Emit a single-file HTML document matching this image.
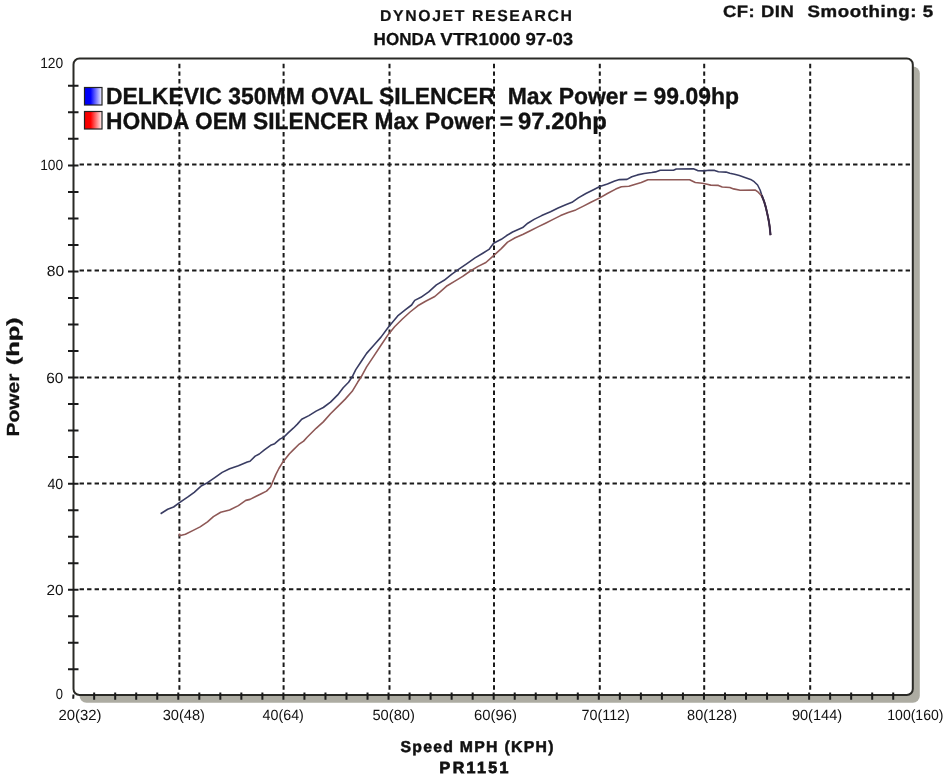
<!DOCTYPE html><html><head><meta charset="utf-8"><style>html,body{margin:0;padding:0;background:#fff;width:950px;height:776px;overflow:hidden}svg{display:block;filter:blur(0.4px)}text{font-family:"Liberation Sans",sans-serif;fill:#111;text-rendering:geometricPrecision}</style></head><body>
<svg width="950" height="776" viewBox="0 0 950 776">
<defs><linearGradient id="gb" x1="0" x2="1" y1="0" y2="0"><stop offset="0" stop-color="#0000f0"/><stop offset="0.35" stop-color="#0000ff"/><stop offset="1" stop-color="#f4f4ff"/></linearGradient>
<linearGradient id="gr" x1="0" x2="1" y1="0" y2="0"><stop offset="0" stop-color="#f00000"/><stop offset="0.35" stop-color="#ff0000"/><stop offset="1" stop-color="#fff4f4"/></linearGradient></defs>
<rect width="950" height="776" fill="#fff"/>
<rect x="79.5" y="66.5" width="840.3" height="636.2" rx="7" fill="#adaca2"/>
<rect x="73.5" y="58.5" width="839.3" height="636.5" rx="6" fill="#fff"/>
<path d="M179.40 63.87v4.4M179.40 71.44v4.4M179.40 79.01v4.4M179.40 86.59v4.4M179.40 94.16v4.4M179.40 101.73v4.4M179.40 109.30v4.4M179.40 116.87v4.4M179.40 124.44v4.4M179.40 132.01v4.4M179.40 139.59v4.4M179.40 147.16v4.4M179.40 154.73v4.4M179.40 162.30v4.4M179.40 169.86v4.4M179.40 177.43v4.4M179.40 184.99v4.4M179.40 192.56v4.4M179.40 200.12v4.4M179.40 207.69v4.4M179.40 215.25v4.4M179.40 222.81v4.4M179.40 230.38v4.4M179.40 237.94v4.4M179.40 245.51v4.4M179.40 253.07v4.4M179.40 260.64v4.4M179.40 268.20v4.4M179.40 275.86v4.4M179.40 283.51v4.4M179.40 291.17v4.4M179.40 298.83v4.4M179.40 306.49v4.4M179.40 314.14v4.4M179.40 321.80v4.4M179.40 329.46v4.4M179.40 337.11v4.4M179.40 344.77v4.4M179.40 352.43v4.4M179.40 360.09v4.4M179.40 367.74v4.4M179.40 375.40v4.4M179.40 382.96v4.4M179.40 390.51v4.4M179.40 398.07v4.4M179.40 405.63v4.4M179.40 413.19v4.4M179.40 420.74v4.4M179.40 428.30v4.4M179.40 435.86v4.4M179.40 443.41v4.4M179.40 450.97v4.4M179.40 458.53v4.4M179.40 466.09v4.4M179.40 473.64v4.4M179.40 481.20v4.4M179.40 488.76v4.4M179.40 496.33v4.4M179.40 503.89v4.4M179.40 511.46v4.4M179.40 519.02v4.4M179.40 526.59v4.4M179.40 534.15v4.4M179.40 541.71v4.4M179.40 549.28v4.4M179.40 556.84v4.4M179.40 564.41v4.4M179.40 571.97v4.4M179.40 579.54v4.4M179.40 587.10v4.4M179.40 594.65v4.4M179.40 602.20v4.4M179.40 609.75v4.4M179.40 617.30v4.4M179.40 624.85v4.4M179.40 632.40v4.4M179.40 639.95v4.4M179.40 647.50v4.4M179.40 655.05v4.4M179.40 662.60v4.4M179.40 670.15v4.4M179.40 677.70v4.4M179.40 685.25v4.4M283.60 63.87v4.4M283.60 71.44v4.4M283.60 79.01v4.4M283.60 86.59v4.4M283.60 94.16v4.4M283.60 101.73v4.4M283.60 109.30v4.4M283.60 116.87v4.4M283.60 124.44v4.4M283.60 132.01v4.4M283.60 139.59v4.4M283.60 147.16v4.4M283.60 154.73v4.4M283.60 162.30v4.4M283.60 169.86v4.4M283.60 177.43v4.4M283.60 184.99v4.4M283.60 192.56v4.4M283.60 200.12v4.4M283.60 207.69v4.4M283.60 215.25v4.4M283.60 222.81v4.4M283.60 230.38v4.4M283.60 237.94v4.4M283.60 245.51v4.4M283.60 253.07v4.4M283.60 260.64v4.4M283.60 268.20v4.4M283.60 275.86v4.4M283.60 283.51v4.4M283.60 291.17v4.4M283.60 298.83v4.4M283.60 306.49v4.4M283.60 314.14v4.4M283.60 321.80v4.4M283.60 329.46v4.4M283.60 337.11v4.4M283.60 344.77v4.4M283.60 352.43v4.4M283.60 360.09v4.4M283.60 367.74v4.4M283.60 375.40v4.4M283.60 382.96v4.4M283.60 390.51v4.4M283.60 398.07v4.4M283.60 405.63v4.4M283.60 413.19v4.4M283.60 420.74v4.4M283.60 428.30v4.4M283.60 435.86v4.4M283.60 443.41v4.4M283.60 450.97v4.4M283.60 458.53v4.4M283.60 466.09v4.4M283.60 473.64v4.4M283.60 481.20v4.4M283.60 488.76v4.4M283.60 496.33v4.4M283.60 503.89v4.4M283.60 511.46v4.4M283.60 519.02v4.4M283.60 526.59v4.4M283.60 534.15v4.4M283.60 541.71v4.4M283.60 549.28v4.4M283.60 556.84v4.4M283.60 564.41v4.4M283.60 571.97v4.4M283.60 579.54v4.4M283.60 587.10v4.4M283.60 594.65v4.4M283.60 602.20v4.4M283.60 609.75v4.4M283.60 617.30v4.4M283.60 624.85v4.4M283.60 632.40v4.4M283.60 639.95v4.4M283.60 647.50v4.4M283.60 655.05v4.4M283.60 662.60v4.4M283.60 670.15v4.4M283.60 677.70v4.4M283.60 685.25v4.4M389.50 63.87v4.4M389.50 71.44v4.4M389.50 79.01v4.4M389.50 86.59v4.4M389.50 94.16v4.4M389.50 101.73v4.4M389.50 109.30v4.4M389.50 116.87v4.4M389.50 124.44v4.4M389.50 132.01v4.4M389.50 139.59v4.4M389.50 147.16v4.4M389.50 154.73v4.4M389.50 162.30v4.4M389.50 169.86v4.4M389.50 177.43v4.4M389.50 184.99v4.4M389.50 192.56v4.4M389.50 200.12v4.4M389.50 207.69v4.4M389.50 215.25v4.4M389.50 222.81v4.4M389.50 230.38v4.4M389.50 237.94v4.4M389.50 245.51v4.4M389.50 253.07v4.4M389.50 260.64v4.4M389.50 268.20v4.4M389.50 275.86v4.4M389.50 283.51v4.4M389.50 291.17v4.4M389.50 298.83v4.4M389.50 306.49v4.4M389.50 314.14v4.4M389.50 321.80v4.4M389.50 329.46v4.4M389.50 337.11v4.4M389.50 344.77v4.4M389.50 352.43v4.4M389.50 360.09v4.4M389.50 367.74v4.4M389.50 375.40v4.4M389.50 382.96v4.4M389.50 390.51v4.4M389.50 398.07v4.4M389.50 405.63v4.4M389.50 413.19v4.4M389.50 420.74v4.4M389.50 428.30v4.4M389.50 435.86v4.4M389.50 443.41v4.4M389.50 450.97v4.4M389.50 458.53v4.4M389.50 466.09v4.4M389.50 473.64v4.4M389.50 481.20v4.4M389.50 488.76v4.4M389.50 496.33v4.4M389.50 503.89v4.4M389.50 511.46v4.4M389.50 519.02v4.4M389.50 526.59v4.4M389.50 534.15v4.4M389.50 541.71v4.4M389.50 549.28v4.4M389.50 556.84v4.4M389.50 564.41v4.4M389.50 571.97v4.4M389.50 579.54v4.4M389.50 587.10v4.4M389.50 594.65v4.4M389.50 602.20v4.4M389.50 609.75v4.4M389.50 617.30v4.4M389.50 624.85v4.4M389.50 632.40v4.4M389.50 639.95v4.4M389.50 647.50v4.4M389.50 655.05v4.4M389.50 662.60v4.4M389.50 670.15v4.4M389.50 677.70v4.4M389.50 685.25v4.4M494.00 63.87v4.4M494.00 71.44v4.4M494.00 79.01v4.4M494.00 86.59v4.4M494.00 94.16v4.4M494.00 101.73v4.4M494.00 109.30v4.4M494.00 116.87v4.4M494.00 124.44v4.4M494.00 132.01v4.4M494.00 139.59v4.4M494.00 147.16v4.4M494.00 154.73v4.4M494.00 162.30v4.4M494.00 169.86v4.4M494.00 177.43v4.4M494.00 184.99v4.4M494.00 192.56v4.4M494.00 200.12v4.4M494.00 207.69v4.4M494.00 215.25v4.4M494.00 222.81v4.4M494.00 230.38v4.4M494.00 237.94v4.4M494.00 245.51v4.4M494.00 253.07v4.4M494.00 260.64v4.4M494.00 268.20v4.4M494.00 275.86v4.4M494.00 283.51v4.4M494.00 291.17v4.4M494.00 298.83v4.4M494.00 306.49v4.4M494.00 314.14v4.4M494.00 321.80v4.4M494.00 329.46v4.4M494.00 337.11v4.4M494.00 344.77v4.4M494.00 352.43v4.4M494.00 360.09v4.4M494.00 367.74v4.4M494.00 375.40v4.4M494.00 382.96v4.4M494.00 390.51v4.4M494.00 398.07v4.4M494.00 405.63v4.4M494.00 413.19v4.4M494.00 420.74v4.4M494.00 428.30v4.4M494.00 435.86v4.4M494.00 443.41v4.4M494.00 450.97v4.4M494.00 458.53v4.4M494.00 466.09v4.4M494.00 473.64v4.4M494.00 481.20v4.4M494.00 488.76v4.4M494.00 496.33v4.4M494.00 503.89v4.4M494.00 511.46v4.4M494.00 519.02v4.4M494.00 526.59v4.4M494.00 534.15v4.4M494.00 541.71v4.4M494.00 549.28v4.4M494.00 556.84v4.4M494.00 564.41v4.4M494.00 571.97v4.4M494.00 579.54v4.4M494.00 587.10v4.4M494.00 594.65v4.4M494.00 602.20v4.4M494.00 609.75v4.4M494.00 617.30v4.4M494.00 624.85v4.4M494.00 632.40v4.4M494.00 639.95v4.4M494.00 647.50v4.4M494.00 655.05v4.4M494.00 662.60v4.4M494.00 670.15v4.4M494.00 677.70v4.4M494.00 685.25v4.4M599.80 63.87v4.4M599.80 71.44v4.4M599.80 79.01v4.4M599.80 86.59v4.4M599.80 94.16v4.4M599.80 101.73v4.4M599.80 109.30v4.4M599.80 116.87v4.4M599.80 124.44v4.4M599.80 132.01v4.4M599.80 139.59v4.4M599.80 147.16v4.4M599.80 154.73v4.4M599.80 162.30v4.4M599.80 169.86v4.4M599.80 177.43v4.4M599.80 184.99v4.4M599.80 192.56v4.4M599.80 200.12v4.4M599.80 207.69v4.4M599.80 215.25v4.4M599.80 222.81v4.4M599.80 230.38v4.4M599.80 237.94v4.4M599.80 245.51v4.4M599.80 253.07v4.4M599.80 260.64v4.4M599.80 268.20v4.4M599.80 275.86v4.4M599.80 283.51v4.4M599.80 291.17v4.4M599.80 298.83v4.4M599.80 306.49v4.4M599.80 314.14v4.4M599.80 321.80v4.4M599.80 329.46v4.4M599.80 337.11v4.4M599.80 344.77v4.4M599.80 352.43v4.4M599.80 360.09v4.4M599.80 367.74v4.4M599.80 375.40v4.4M599.80 382.96v4.4M599.80 390.51v4.4M599.80 398.07v4.4M599.80 405.63v4.4M599.80 413.19v4.4M599.80 420.74v4.4M599.80 428.30v4.4M599.80 435.86v4.4M599.80 443.41v4.4M599.80 450.97v4.4M599.80 458.53v4.4M599.80 466.09v4.4M599.80 473.64v4.4M599.80 481.20v4.4M599.80 488.76v4.4M599.80 496.33v4.4M599.80 503.89v4.4M599.80 511.46v4.4M599.80 519.02v4.4M599.80 526.59v4.4M599.80 534.15v4.4M599.80 541.71v4.4M599.80 549.28v4.4M599.80 556.84v4.4M599.80 564.41v4.4M599.80 571.97v4.4M599.80 579.54v4.4M599.80 587.10v4.4M599.80 594.65v4.4M599.80 602.20v4.4M599.80 609.75v4.4M599.80 617.30v4.4M599.80 624.85v4.4M599.80 632.40v4.4M599.80 639.95v4.4M599.80 647.50v4.4M599.80 655.05v4.4M599.80 662.60v4.4M599.80 670.15v4.4M599.80 677.70v4.4M599.80 685.25v4.4M704.20 63.87v4.4M704.20 71.44v4.4M704.20 79.01v4.4M704.20 86.59v4.4M704.20 94.16v4.4M704.20 101.73v4.4M704.20 109.30v4.4M704.20 116.87v4.4M704.20 124.44v4.4M704.20 132.01v4.4M704.20 139.59v4.4M704.20 147.16v4.4M704.20 154.73v4.4M704.20 162.30v4.4M704.20 169.86v4.4M704.20 177.43v4.4M704.20 184.99v4.4M704.20 192.56v4.4M704.20 200.12v4.4M704.20 207.69v4.4M704.20 215.25v4.4M704.20 222.81v4.4M704.20 230.38v4.4M704.20 237.94v4.4M704.20 245.51v4.4M704.20 253.07v4.4M704.20 260.64v4.4M704.20 268.20v4.4M704.20 275.86v4.4M704.20 283.51v4.4M704.20 291.17v4.4M704.20 298.83v4.4M704.20 306.49v4.4M704.20 314.14v4.4M704.20 321.80v4.4M704.20 329.46v4.4M704.20 337.11v4.4M704.20 344.77v4.4M704.20 352.43v4.4M704.20 360.09v4.4M704.20 367.74v4.4M704.20 375.40v4.4M704.20 382.96v4.4M704.20 390.51v4.4M704.20 398.07v4.4M704.20 405.63v4.4M704.20 413.19v4.4M704.20 420.74v4.4M704.20 428.30v4.4M704.20 435.86v4.4M704.20 443.41v4.4M704.20 450.97v4.4M704.20 458.53v4.4M704.20 466.09v4.4M704.20 473.64v4.4M704.20 481.20v4.4M704.20 488.76v4.4M704.20 496.33v4.4M704.20 503.89v4.4M704.20 511.46v4.4M704.20 519.02v4.4M704.20 526.59v4.4M704.20 534.15v4.4M704.20 541.71v4.4M704.20 549.28v4.4M704.20 556.84v4.4M704.20 564.41v4.4M704.20 571.97v4.4M704.20 579.54v4.4M704.20 587.10v4.4M704.20 594.65v4.4M704.20 602.20v4.4M704.20 609.75v4.4M704.20 617.30v4.4M704.20 624.85v4.4M704.20 632.40v4.4M704.20 639.95v4.4M704.20 647.50v4.4M704.20 655.05v4.4M704.20 662.60v4.4M704.20 670.15v4.4M704.20 677.70v4.4M704.20 685.25v4.4M810.20 63.87v4.4M810.20 71.44v4.4M810.20 79.01v4.4M810.20 86.59v4.4M810.20 94.16v4.4M810.20 101.73v4.4M810.20 109.30v4.4M810.20 116.87v4.4M810.20 124.44v4.4M810.20 132.01v4.4M810.20 139.59v4.4M810.20 147.16v4.4M810.20 154.73v4.4M810.20 162.30v4.4M810.20 169.86v4.4M810.20 177.43v4.4M810.20 184.99v4.4M810.20 192.56v4.4M810.20 200.12v4.4M810.20 207.69v4.4M810.20 215.25v4.4M810.20 222.81v4.4M810.20 230.38v4.4M810.20 237.94v4.4M810.20 245.51v4.4M810.20 253.07v4.4M810.20 260.64v4.4M810.20 268.20v4.4M810.20 275.86v4.4M810.20 283.51v4.4M810.20 291.17v4.4M810.20 298.83v4.4M810.20 306.49v4.4M810.20 314.14v4.4M810.20 321.80v4.4M810.20 329.46v4.4M810.20 337.11v4.4M810.20 344.77v4.4M810.20 352.43v4.4M810.20 360.09v4.4M810.20 367.74v4.4M810.20 375.40v4.4M810.20 382.96v4.4M810.20 390.51v4.4M810.20 398.07v4.4M810.20 405.63v4.4M810.20 413.19v4.4M810.20 420.74v4.4M810.20 428.30v4.4M810.20 435.86v4.4M810.20 443.41v4.4M810.20 450.97v4.4M810.20 458.53v4.4M810.20 466.09v4.4M810.20 473.64v4.4M810.20 481.20v4.4M810.20 488.76v4.4M810.20 496.33v4.4M810.20 503.89v4.4M810.20 511.46v4.4M810.20 519.02v4.4M810.20 526.59v4.4M810.20 534.15v4.4M810.20 541.71v4.4M810.20 549.28v4.4M810.20 556.84v4.4M810.20 564.41v4.4M810.20 571.97v4.4M810.20 579.54v4.4M810.20 587.10v4.4M810.20 594.65v4.4M810.20 602.20v4.4M810.20 609.75v4.4M810.20 617.30v4.4M810.20 624.85v4.4M810.20 632.40v4.4M810.20 639.95v4.4M810.20 647.50v4.4M810.20 655.05v4.4M810.20 662.60v4.4M810.20 670.15v4.4M810.20 677.70v4.4M810.20 685.25v4.4M169.69 164.50h4.4M162.18 164.50h4.4M154.67 164.50h4.4M147.16 164.50h4.4M139.65 164.50h4.4M132.14 164.50h4.4M124.63 164.50h4.4M117.12 164.50h4.4M109.61 164.50h4.4M102.10 164.50h4.4M94.59 164.50h4.4M87.08 164.50h4.4M79.57 164.50h4.4M177.20 164.50h4.4M184.64 164.50h4.4M192.09 164.50h4.4M199.53 164.50h4.4M206.97 164.50h4.4M214.41 164.50h4.4M221.86 164.50h4.4M229.30 164.50h4.4M236.74 164.50h4.4M244.19 164.50h4.4M251.63 164.50h4.4M259.07 164.50h4.4M266.51 164.50h4.4M273.96 164.50h4.4M281.40 164.50h4.4M288.96 164.50h4.4M296.53 164.50h4.4M304.09 164.50h4.4M311.66 164.50h4.4M319.22 164.50h4.4M326.79 164.50h4.4M334.35 164.50h4.4M341.91 164.50h4.4M349.48 164.50h4.4M357.04 164.50h4.4M364.61 164.50h4.4M372.17 164.50h4.4M379.74 164.50h4.4M387.30 164.50h4.4M394.76 164.50h4.4M402.23 164.50h4.4M409.69 164.50h4.4M417.16 164.50h4.4M424.62 164.50h4.4M432.09 164.50h4.4M439.55 164.50h4.4M447.01 164.50h4.4M454.48 164.50h4.4M461.94 164.50h4.4M469.41 164.50h4.4M476.87 164.50h4.4M484.34 164.50h4.4M491.80 164.50h4.4M499.36 164.50h4.4M506.91 164.50h4.4M514.47 164.50h4.4M522.03 164.50h4.4M529.59 164.50h4.4M537.14 164.50h4.4M544.70 164.50h4.4M552.26 164.50h4.4M559.81 164.50h4.4M567.37 164.50h4.4M574.93 164.50h4.4M582.49 164.50h4.4M590.04 164.50h4.4M597.60 164.50h4.4M605.06 164.50h4.4M612.51 164.50h4.4M619.97 164.50h4.4M627.43 164.50h4.4M634.89 164.50h4.4M642.34 164.50h4.4M649.80 164.50h4.4M657.26 164.50h4.4M664.71 164.50h4.4M672.17 164.50h4.4M679.63 164.50h4.4M687.09 164.50h4.4M694.54 164.50h4.4M702.00 164.50h4.4M709.57 164.50h4.4M717.14 164.50h4.4M724.71 164.50h4.4M732.29 164.50h4.4M739.86 164.50h4.4M747.43 164.50h4.4M755.00 164.50h4.4M762.57 164.50h4.4M770.14 164.50h4.4M777.71 164.50h4.4M785.29 164.50h4.4M792.86 164.50h4.4M800.43 164.50h4.4M808.00 164.50h4.4M815.51 164.50h4.4M823.02 164.50h4.4M830.53 164.50h4.4M838.04 164.50h4.4M845.55 164.50h4.4M853.06 164.50h4.4M860.57 164.50h4.4M868.08 164.50h4.4M875.59 164.50h4.4M883.10 164.50h4.4M890.61 164.50h4.4M898.12 164.50h4.4M905.63 164.50h4.4M169.69 270.40h4.4M162.18 270.40h4.4M154.67 270.40h4.4M147.16 270.40h4.4M139.65 270.40h4.4M132.14 270.40h4.4M124.63 270.40h4.4M117.12 270.40h4.4M109.61 270.40h4.4M102.10 270.40h4.4M94.59 270.40h4.4M87.08 270.40h4.4M79.57 270.40h4.4M177.20 270.40h4.4M184.64 270.40h4.4M192.09 270.40h4.4M199.53 270.40h4.4M206.97 270.40h4.4M214.41 270.40h4.4M221.86 270.40h4.4M229.30 270.40h4.4M236.74 270.40h4.4M244.19 270.40h4.4M251.63 270.40h4.4M259.07 270.40h4.4M266.51 270.40h4.4M273.96 270.40h4.4M281.40 270.40h4.4M288.96 270.40h4.4M296.53 270.40h4.4M304.09 270.40h4.4M311.66 270.40h4.4M319.22 270.40h4.4M326.79 270.40h4.4M334.35 270.40h4.4M341.91 270.40h4.4M349.48 270.40h4.4M357.04 270.40h4.4M364.61 270.40h4.4M372.17 270.40h4.4M379.74 270.40h4.4M387.30 270.40h4.4M394.76 270.40h4.4M402.23 270.40h4.4M409.69 270.40h4.4M417.16 270.40h4.4M424.62 270.40h4.4M432.09 270.40h4.4M439.55 270.40h4.4M447.01 270.40h4.4M454.48 270.40h4.4M461.94 270.40h4.4M469.41 270.40h4.4M476.87 270.40h4.4M484.34 270.40h4.4M491.80 270.40h4.4M499.36 270.40h4.4M506.91 270.40h4.4M514.47 270.40h4.4M522.03 270.40h4.4M529.59 270.40h4.4M537.14 270.40h4.4M544.70 270.40h4.4M552.26 270.40h4.4M559.81 270.40h4.4M567.37 270.40h4.4M574.93 270.40h4.4M582.49 270.40h4.4M590.04 270.40h4.4M597.60 270.40h4.4M605.06 270.40h4.4M612.51 270.40h4.4M619.97 270.40h4.4M627.43 270.40h4.4M634.89 270.40h4.4M642.34 270.40h4.4M649.80 270.40h4.4M657.26 270.40h4.4M664.71 270.40h4.4M672.17 270.40h4.4M679.63 270.40h4.4M687.09 270.40h4.4M694.54 270.40h4.4M702.00 270.40h4.4M709.57 270.40h4.4M717.14 270.40h4.4M724.71 270.40h4.4M732.29 270.40h4.4M739.86 270.40h4.4M747.43 270.40h4.4M755.00 270.40h4.4M762.57 270.40h4.4M770.14 270.40h4.4M777.71 270.40h4.4M785.29 270.40h4.4M792.86 270.40h4.4M800.43 270.40h4.4M808.00 270.40h4.4M815.51 270.40h4.4M823.02 270.40h4.4M830.53 270.40h4.4M838.04 270.40h4.4M845.55 270.40h4.4M853.06 270.40h4.4M860.57 270.40h4.4M868.08 270.40h4.4M875.59 270.40h4.4M883.10 270.40h4.4M890.61 270.40h4.4M898.12 270.40h4.4M905.63 270.40h4.4M169.69 377.60h4.4M162.18 377.60h4.4M154.67 377.60h4.4M147.16 377.60h4.4M139.65 377.60h4.4M132.14 377.60h4.4M124.63 377.60h4.4M117.12 377.60h4.4M109.61 377.60h4.4M102.10 377.60h4.4M94.59 377.60h4.4M87.08 377.60h4.4M79.57 377.60h4.4M177.20 377.60h4.4M184.64 377.60h4.4M192.09 377.60h4.4M199.53 377.60h4.4M206.97 377.60h4.4M214.41 377.60h4.4M221.86 377.60h4.4M229.30 377.60h4.4M236.74 377.60h4.4M244.19 377.60h4.4M251.63 377.60h4.4M259.07 377.60h4.4M266.51 377.60h4.4M273.96 377.60h4.4M281.40 377.60h4.4M288.96 377.60h4.4M296.53 377.60h4.4M304.09 377.60h4.4M311.66 377.60h4.4M319.22 377.60h4.4M326.79 377.60h4.4M334.35 377.60h4.4M341.91 377.60h4.4M349.48 377.60h4.4M357.04 377.60h4.4M364.61 377.60h4.4M372.17 377.60h4.4M379.74 377.60h4.4M387.30 377.60h4.4M394.76 377.60h4.4M402.23 377.60h4.4M409.69 377.60h4.4M417.16 377.60h4.4M424.62 377.60h4.4M432.09 377.60h4.4M439.55 377.60h4.4M447.01 377.60h4.4M454.48 377.60h4.4M461.94 377.60h4.4M469.41 377.60h4.4M476.87 377.60h4.4M484.34 377.60h4.4M491.80 377.60h4.4M499.36 377.60h4.4M506.91 377.60h4.4M514.47 377.60h4.4M522.03 377.60h4.4M529.59 377.60h4.4M537.14 377.60h4.4M544.70 377.60h4.4M552.26 377.60h4.4M559.81 377.60h4.4M567.37 377.60h4.4M574.93 377.60h4.4M582.49 377.60h4.4M590.04 377.60h4.4M597.60 377.60h4.4M605.06 377.60h4.4M612.51 377.60h4.4M619.97 377.60h4.4M627.43 377.60h4.4M634.89 377.60h4.4M642.34 377.60h4.4M649.80 377.60h4.4M657.26 377.60h4.4M664.71 377.60h4.4M672.17 377.60h4.4M679.63 377.60h4.4M687.09 377.60h4.4M694.54 377.60h4.4M702.00 377.60h4.4M709.57 377.60h4.4M717.14 377.60h4.4M724.71 377.60h4.4M732.29 377.60h4.4M739.86 377.60h4.4M747.43 377.60h4.4M755.00 377.60h4.4M762.57 377.60h4.4M770.14 377.60h4.4M777.71 377.60h4.4M785.29 377.60h4.4M792.86 377.60h4.4M800.43 377.60h4.4M808.00 377.60h4.4M815.51 377.60h4.4M823.02 377.60h4.4M830.53 377.60h4.4M838.04 377.60h4.4M845.55 377.60h4.4M853.06 377.60h4.4M860.57 377.60h4.4M868.08 377.60h4.4M875.59 377.60h4.4M883.10 377.60h4.4M890.61 377.60h4.4M898.12 377.60h4.4M905.63 377.60h4.4M169.69 483.40h4.4M162.18 483.40h4.4M154.67 483.40h4.4M147.16 483.40h4.4M139.65 483.40h4.4M132.14 483.40h4.4M124.63 483.40h4.4M117.12 483.40h4.4M109.61 483.40h4.4M102.10 483.40h4.4M94.59 483.40h4.4M87.08 483.40h4.4M79.57 483.40h4.4M177.20 483.40h4.4M184.64 483.40h4.4M192.09 483.40h4.4M199.53 483.40h4.4M206.97 483.40h4.4M214.41 483.40h4.4M221.86 483.40h4.4M229.30 483.40h4.4M236.74 483.40h4.4M244.19 483.40h4.4M251.63 483.40h4.4M259.07 483.40h4.4M266.51 483.40h4.4M273.96 483.40h4.4M281.40 483.40h4.4M288.96 483.40h4.4M296.53 483.40h4.4M304.09 483.40h4.4M311.66 483.40h4.4M319.22 483.40h4.4M326.79 483.40h4.4M334.35 483.40h4.4M341.91 483.40h4.4M349.48 483.40h4.4M357.04 483.40h4.4M364.61 483.40h4.4M372.17 483.40h4.4M379.74 483.40h4.4M387.30 483.40h4.4M394.76 483.40h4.4M402.23 483.40h4.4M409.69 483.40h4.4M417.16 483.40h4.4M424.62 483.40h4.4M432.09 483.40h4.4M439.55 483.40h4.4M447.01 483.40h4.4M454.48 483.40h4.4M461.94 483.40h4.4M469.41 483.40h4.4M476.87 483.40h4.4M484.34 483.40h4.4M491.80 483.40h4.4M499.36 483.40h4.4M506.91 483.40h4.4M514.47 483.40h4.4M522.03 483.40h4.4M529.59 483.40h4.4M537.14 483.40h4.4M544.70 483.40h4.4M552.26 483.40h4.4M559.81 483.40h4.4M567.37 483.40h4.4M574.93 483.40h4.4M582.49 483.40h4.4M590.04 483.40h4.4M597.60 483.40h4.4M605.06 483.40h4.4M612.51 483.40h4.4M619.97 483.40h4.4M627.43 483.40h4.4M634.89 483.40h4.4M642.34 483.40h4.4M649.80 483.40h4.4M657.26 483.40h4.4M664.71 483.40h4.4M672.17 483.40h4.4M679.63 483.40h4.4M687.09 483.40h4.4M694.54 483.40h4.4M702.00 483.40h4.4M709.57 483.40h4.4M717.14 483.40h4.4M724.71 483.40h4.4M732.29 483.40h4.4M739.86 483.40h4.4M747.43 483.40h4.4M755.00 483.40h4.4M762.57 483.40h4.4M770.14 483.40h4.4M777.71 483.40h4.4M785.29 483.40h4.4M792.86 483.40h4.4M800.43 483.40h4.4M808.00 483.40h4.4M815.51 483.40h4.4M823.02 483.40h4.4M830.53 483.40h4.4M838.04 483.40h4.4M845.55 483.40h4.4M853.06 483.40h4.4M860.57 483.40h4.4M868.08 483.40h4.4M875.59 483.40h4.4M883.10 483.40h4.4M890.61 483.40h4.4M898.12 483.40h4.4M905.63 483.40h4.4M169.69 589.30h4.4M162.18 589.30h4.4M154.67 589.30h4.4M147.16 589.30h4.4M139.65 589.30h4.4M132.14 589.30h4.4M124.63 589.30h4.4M117.12 589.30h4.4M109.61 589.30h4.4M102.10 589.30h4.4M94.59 589.30h4.4M87.08 589.30h4.4M79.57 589.30h4.4M177.20 589.30h4.4M184.64 589.30h4.4M192.09 589.30h4.4M199.53 589.30h4.4M206.97 589.30h4.4M214.41 589.30h4.4M221.86 589.30h4.4M229.30 589.30h4.4M236.74 589.30h4.4M244.19 589.30h4.4M251.63 589.30h4.4M259.07 589.30h4.4M266.51 589.30h4.4M273.96 589.30h4.4M281.40 589.30h4.4M288.96 589.30h4.4M296.53 589.30h4.4M304.09 589.30h4.4M311.66 589.30h4.4M319.22 589.30h4.4M326.79 589.30h4.4M334.35 589.30h4.4M341.91 589.30h4.4M349.48 589.30h4.4M357.04 589.30h4.4M364.61 589.30h4.4M372.17 589.30h4.4M379.74 589.30h4.4M387.30 589.30h4.4M394.76 589.30h4.4M402.23 589.30h4.4M409.69 589.30h4.4M417.16 589.30h4.4M424.62 589.30h4.4M432.09 589.30h4.4M439.55 589.30h4.4M447.01 589.30h4.4M454.48 589.30h4.4M461.94 589.30h4.4M469.41 589.30h4.4M476.87 589.30h4.4M484.34 589.30h4.4M491.80 589.30h4.4M499.36 589.30h4.4M506.91 589.30h4.4M514.47 589.30h4.4M522.03 589.30h4.4M529.59 589.30h4.4M537.14 589.30h4.4M544.70 589.30h4.4M552.26 589.30h4.4M559.81 589.30h4.4M567.37 589.30h4.4M574.93 589.30h4.4M582.49 589.30h4.4M590.04 589.30h4.4M597.60 589.30h4.4M605.06 589.30h4.4M612.51 589.30h4.4M619.97 589.30h4.4M627.43 589.30h4.4M634.89 589.30h4.4M642.34 589.30h4.4M649.80 589.30h4.4M657.26 589.30h4.4M664.71 589.30h4.4M672.17 589.30h4.4M679.63 589.30h4.4M687.09 589.30h4.4M694.54 589.30h4.4M702.00 589.30h4.4M709.57 589.30h4.4M717.14 589.30h4.4M724.71 589.30h4.4M732.29 589.30h4.4M739.86 589.30h4.4M747.43 589.30h4.4M755.00 589.30h4.4M762.57 589.30h4.4M770.14 589.30h4.4M777.71 589.30h4.4M785.29 589.30h4.4M792.86 589.30h4.4M800.43 589.30h4.4M808.00 589.30h4.4M815.51 589.30h4.4M823.02 589.30h4.4M830.53 589.30h4.4M838.04 589.30h4.4M845.55 589.30h4.4M853.06 589.30h4.4M860.57 589.30h4.4M868.08 589.30h4.4M875.59 589.30h4.4M883.10 589.30h4.4M890.61 589.30h4.4M898.12 589.30h4.4M905.63 589.30h4.4" stroke="#1a1a1a" stroke-width="2" fill="none"/>
<line x1="73.5" y1="694.5" x2="73.2" y2="698.8" stroke="#1a1a1a" stroke-width="2"/>
<rect x="73.5" y="58.5" width="839.3" height="636.5" rx="6" fill="none" stroke="#2a2a26" stroke-width="2"/>
<path d="M94.16 692.5v7.3M115.19 692.5v7.3M136.21 692.5v7.3M157.24 692.5v7.3M178.27 692.5v7.3M199.30 692.5v7.3M220.33 692.5v7.3M241.35 692.5v7.3M262.38 692.5v7.3M283.41 692.5v7.3M304.44 692.5v7.3M325.47 692.5v7.3M346.49 692.5v7.3M367.52 692.5v7.3M388.55 692.5v7.3M409.58 692.5v7.3M430.61 692.5v7.3M451.63 692.5v7.3M472.66 692.5v7.3M493.69 692.5v7.3M514.72 692.5v7.3M535.75 692.5v7.3M556.77 692.5v7.3M577.80 692.5v7.3M598.83 692.5v7.3M619.86 692.5v7.3M640.89 692.5v7.3M661.91 692.5v7.3M682.94 692.5v7.3M703.97 692.5v7.3M725.00 692.5v7.3M746.03 692.5v7.3M767.05 692.5v7.3M788.08 692.5v7.3M809.11 692.5v7.3M830.14 692.5v7.3M851.17 692.5v7.3M872.19 692.5v7.3M893.22 692.5v7.3M68.0 669.28h10.5M68.0 642.76h10.5M68.0 616.24h10.5M68.0 589.72h10.5M68.0 563.20h10.5M68.0 536.67h10.5M68.0 510.15h10.5M68.0 483.63h10.5M68.0 457.11h10.5M68.0 430.59h10.5M68.0 404.07h10.5M68.0 377.55h10.5M68.0 351.03h10.5M68.0 324.51h10.5M68.0 297.99h10.5M68.0 271.47h10.5M68.0 244.95h10.5M68.0 218.43h10.5M68.0 191.90h10.5M68.0 165.38h10.5M68.0 138.86h10.5M68.0 112.34h10.5M68.0 85.82h10.5" stroke="#1a1a1a" stroke-width="2" fill="none"/>
<polyline points="160.6,513.7 167.7,509.3 173.6,507.0 179.5,502.6 188.3,496.7 194.2,492.3 201.6,485.7 207.5,482.7 214.8,477.6 222.2,472.4 229.6,468.7 238.4,465.8 247.3,462.1 250.0,461.2 255.2,456.1 259.3,454.0 264.4,449.9 270.6,445.3 274.7,443.7 279.9,439.1 284.0,437.0 288.1,432.9 293.3,428.2 297.4,424.1 301.7,419.2 308.9,415.6 316.1,411.1 323.3,407.5 330.5,402.1 337.7,394.9 343.2,387.7 348.6,382.3 352.2,376.8 355.8,369.6 361.2,361.5 366.6,353.4 373.8,345.3 381.0,337.1 388.3,327.2 397.7,315.9 405.5,309.7 411.6,305.0 414.7,300.4 420.9,297.3 428.7,291.9 436.4,284.9 444.1,280.3 451.9,274.1 459.6,268.7 467.3,263.3 475.0,257.9 482.8,253.2 489.0,249.4 493.6,243.2 501.3,239.3 506.3,235.8 512.6,232.0 522.7,227.6 527.8,223.2 534.1,219.4 541.7,215.6 550.5,211.8 558.1,208.0 565.7,204.8 572.0,202.3 578.3,197.9 585.9,193.5 593.5,189.7 599.8,186.5 607.4,184.0 614.7,181.1 619.5,179.6 627.0,179.4 631.8,176.8 637.5,174.9 644.1,173.5 651.7,172.5 655.5,171.9 660.2,170.3 673.5,170.2 676.3,169.0 693.4,168.7 697.6,170.6 704.2,170.9 708.9,170.2 714.6,170.4 718.4,171.8 726.0,172.1 729.8,173.3 734.5,174.2 739.3,175.6 744.9,177.5 750.6,179.4 754.2,181.7 757.6,185.0 760.1,190.0 761.7,195.1 764.2,201.8 765.9,207.6 767.6,215.1 768.8,221.0 769.7,226.9 770.5,235.2" fill="none" stroke="#393c62" stroke-width="1.6" stroke-linejoin="round"/>
<polyline points="179.5,533.5 179.5,535.8 185.4,534.3 192.7,530.6 200.1,526.9 207.5,521.8 213.4,516.6 220.7,512.2 229.6,510.0 238.4,505.6 245.8,500.4 250.0,499.4 256.2,496.3 261.3,493.7 266.5,491.1 270.6,487.0 272.7,481.9 275.8,474.6 278.9,468.5 282.0,463.3 285.1,459.2 289.2,454.0 293.3,449.9 298.5,444.7 303.6,441.1 307.1,437.3 316.1,428.3 323.3,421.9 330.5,413.8 337.7,406.6 345.0,399.4 352.2,391.3 357.6,382.3 361.2,376.8 366.6,366.9 373.8,356.1 381.0,345.3 388.3,334.4 394.6,326.7 402.4,319.0 410.1,312.0 417.8,305.8 425.6,301.2 434.8,296.5 441.0,291.1 447.2,285.7 454.9,281.1 462.7,276.4 470.4,271.0 478.1,266.4 485.9,262.5 493.6,255.6 501.3,248.6 507.6,242.1 515.2,237.7 522.7,234.5 530.3,230.7 537.9,226.9 545.5,223.2 553.1,219.4 560.6,215.6 568.2,212.4 575.8,209.9 583.4,206.1 590.9,202.3 599.8,197.9 607.4,193.5 615.7,189.1 621.4,186.7 628.9,186.3 634.6,184.4 641.3,182.5 647.9,179.8 689.6,179.8 695.3,182.5 702.3,183.2 707.1,184.2 710.8,185.1 718.4,185.4 722.2,187.0 729.8,187.5 733.6,188.9 740.2,190.3 755.4,190.1 758.2,192.2 761.0,195.1 763.9,200.7 765.9,207.6 767.6,215.1 768.8,221.0 769.7,226.9 770.5,235.2" fill="none" stroke="#8e5856" stroke-width="1.6" stroke-linejoin="round"/>
<polyline points="761.7,195.1 764.2,201.8 765.9,207.6 767.6,215.1 768.8,221.0 769.7,226.9 770.5,235.2" fill="none" stroke="#3a2a48" stroke-width="2" stroke-linejoin="round"/>
<rect x="84.5" y="87.5" width="17.5" height="17.5" fill="url(#gb)" stroke="#222" stroke-width="1.2"/>
<rect x="84.5" y="111.5" width="17.5" height="17.5" fill="url(#gr)" stroke="#222" stroke-width="1.2"/>
<text x="106.0" y="103.9" font-size="23.3" font-weight="bold" textLength="633.0" lengthAdjust="spacingAndGlyphs" stroke="#111" stroke-width="0.35">DELKEVIC 350MM OVAL SILENCER&#160; Max Power = 99.09hp</text>
<text x="106.0" y="128.5" font-size="23.5" font-weight="bold" textLength="407.0" lengthAdjust="spacingAndGlyphs" stroke="#111" stroke-width="0.35">HONDA OEM SILENCER Max Power =</text>
<text x="518.1" y="128.5" font-size="23.5" font-weight="bold" textLength="88.79" lengthAdjust="spacingAndGlyphs" stroke="#111" stroke-width="0.35">97.20hp</text>
<text x="380.0" y="21.2" font-size="15.8" font-weight="bold" textLength="192.0" lengthAdjust="spacing" stroke="#222" stroke-width="0.2">DYNOJET RESEARCH</text>
<text x="373.6" y="44.8" font-size="17.4" font-weight="bold" textLength="62.45" lengthAdjust="spacingAndGlyphs" stroke="#111" stroke-width="0.25">HONDA</text>
<text x="440.3" y="44.8" font-size="17.4" font-weight="bold" textLength="80.2" lengthAdjust="spacingAndGlyphs" stroke="#111" stroke-width="0.25">VTR1000</text>
<text x="525.5" y="44.8" font-size="17.4" font-weight="bold" textLength="47.65" lengthAdjust="spacingAndGlyphs" stroke="#111" stroke-width="0.25">97-03</text>
<text x="722.9" y="17.1" font-size="16.6" font-weight="bold" textLength="71.43" lengthAdjust="spacingAndGlyphs" stroke="#222" stroke-width="0.4" letter-spacing="0.5">CF: DIN</text>
<text x="807.5" y="17.1" font-size="16.6" font-weight="bold" textLength="126.26" lengthAdjust="spacingAndGlyphs" stroke="#222" stroke-width="0.4" letter-spacing="0.5">Smoothing: 5</text>
<text x="400.4" y="752" font-size="15.8" font-weight="bold" textLength="153.0" lengthAdjust="spacing" stroke="#111" stroke-width="0.5">Speed MPH (KPH)</text>
<text x="439.6" y="772.8" font-size="16" font-weight="bold" textLength="68.8" lengthAdjust="spacing" stroke="#111" stroke-width="0.8">PR1151</text>
<text x="58.5" y="719.9" font-size="14.8" font-weight="normal" textLength="43.09" lengthAdjust="spacingAndGlyphs">20(32)</text>
<text x="162.7" y="719.9" font-size="14.8" font-weight="normal" textLength="42.27" lengthAdjust="spacingAndGlyphs">30(48)</text>
<text x="262.6" y="719.9" font-size="14.8" font-weight="normal" textLength="41.24" lengthAdjust="spacingAndGlyphs">40(64)</text>
<text x="372.4" y="719.9" font-size="14.8" font-weight="normal" textLength="42.5" lengthAdjust="spacingAndGlyphs">50(80)</text>
<text x="474.1" y="719.9" font-size="14.8" font-weight="normal" textLength="42.78" lengthAdjust="spacingAndGlyphs">60(96)</text>
<text x="581.5" y="719.9" font-size="14.8" font-weight="normal" textLength="48.35" lengthAdjust="spacingAndGlyphs">70(112)</text>
<text x="687.1" y="719.9" font-size="14.8" font-weight="normal" textLength="49.9" lengthAdjust="spacingAndGlyphs">80(128)</text>
<text x="791.9" y="719.9" font-size="14.8" font-weight="normal" textLength="50.31" lengthAdjust="spacingAndGlyphs">90(144)</text>
<text x="887.3" y="719.9" font-size="14.8" font-weight="normal" textLength="56.15" lengthAdjust="spacingAndGlyphs">100(160)</text>
<text x="55.8" y="699.2" font-size="14.8" font-weight="normal" textLength="7.21" lengthAdjust="spacingAndGlyphs">0</text>
<text x="46.6" y="594.6" font-size="14.8" font-weight="normal" textLength="17.03" lengthAdjust="spacingAndGlyphs">20</text>
<text x="47.4" y="488.7" font-size="14.8" font-weight="normal" textLength="15.85" lengthAdjust="spacingAndGlyphs">40</text>
<text x="46.2" y="382.9" font-size="14.8" font-weight="normal" textLength="17.14" lengthAdjust="spacingAndGlyphs">60</text>
<text x="46.7" y="275.7" font-size="14.8" font-weight="normal" textLength="17.39" lengthAdjust="spacingAndGlyphs">80</text>
<text x="40.2" y="169.8" font-size="14.8" font-weight="normal" textLength="23.04" lengthAdjust="spacingAndGlyphs">100</text>
<text x="40.2" y="68.4" font-size="14.8" font-weight="normal" textLength="23.04" lengthAdjust="spacingAndGlyphs">120</text>
<text transform="translate(19.3,436.6) rotate(-90)" font-size="17.5" font-weight="bold" textLength="63" lengthAdjust="spacingAndGlyphs" stroke="#111" stroke-width="0.25">Power</text>
<text transform="translate(19.3,365.2) rotate(-90)" font-size="17.5" font-weight="bold" textLength="48" lengthAdjust="spacingAndGlyphs" stroke="#111" stroke-width="0.25">(hp)</text>
</svg></body></html>
